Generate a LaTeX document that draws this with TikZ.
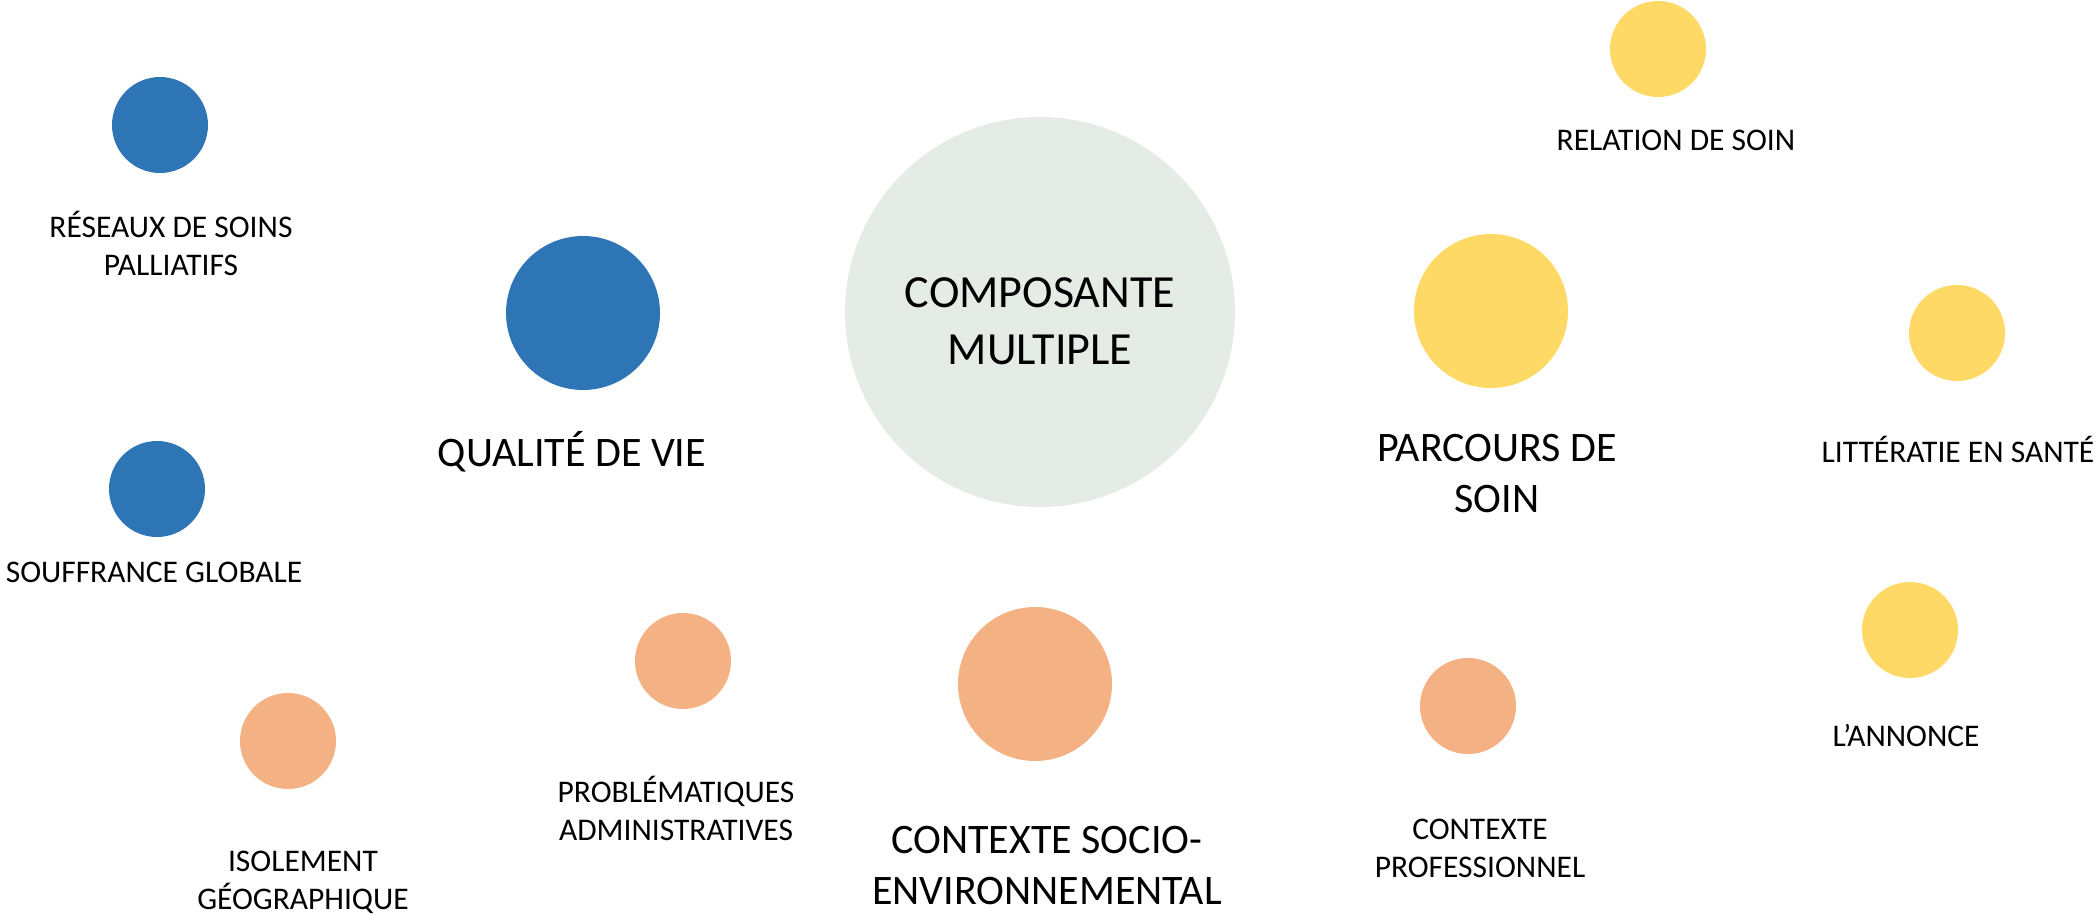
\documentclass[tikz,border=0pt]{standalone}
\usepackage{fontspec}
\setmainfont{Carlito}
\definecolor{bleu}{HTML}{2E75B6}
\definecolor{saumon}{HTML}{F4B183}
\definecolor{jaune}{HTML}{FFD966}
\definecolor{gris}{HTML}{E5ECE6}
\tikzstyle{bulle}=[circle,inner sep=0pt,draw=none]
\tikzstyle{petit}=[align=center,anchor=base,inner sep=0pt,font=\fontsize{31.5}{37.8}\selectfont]
\tikzstyle{grand}=[align=center,anchor=base,inner sep=0pt,font=\fontsize{42}{51}\selectfont]
\tikzstyle{titre}=[align=center,anchor=base,inner sep=0pt,font=\fontsize{46}{57}\selectfont]
\newcommand{\drawbulle}[5]{
\pgfmathsetmacro{\diam}{2*#4}
\node[bulle,fill=#5,minimum size=\diam pt] (#1) at (#2,#3) {};
}

\begin{document}
\begin{tikzpicture}[x=1pt,y=-1pt]
	\useasboundingbox (0,0) rectangle (2099,915);
	% composante centrale
	\drawbulle{centre}{1040}{312}{195}{gris}
	\node[titre] (composante) at (1040,364) {COMPOSANTE\\MULTIPLE};
	% qualite de vie
	\drawbulle{qualite}{583}{313}{77}{bleu}
	\drawbulle{reseaux}{160}{125}{48}{bleu}
	\drawbulle{souffrance}{157}{489}{48}{bleu}
	\node[grand] (lqualite) at (572,466) {QUALITÉ DE VIE};
	\node[petit] (lreseaux) at (171,275) {RÉSEAUX DE SOINS\\PALLIATIFS};
	\node[petit] (lsouffrance) at (154,582) {SOUFFRANCE GLOBALE};
	% parcours de soin
	\drawbulle{parcours}{1491}{311}{77}{jaune}
	\drawbulle{relation}{1658}{49}{48}{jaune}
	\drawbulle{litteratie}{1957}{333}{48}{jaune}
	\drawbulle{annonce}{1910}{630}{48}{jaune}
	\node[grand] (lparcours) at (1497,512) {PARCOURS DE\\SOIN};
	\node[petit] (lrelation) at (1676,150) {RELATION DE SOIN};
	\node[petit] (llitteratie) at (1958,462) {LITTÉRATIE EN SANTÉ};
	\node[petit] (lannonce) at (1906,746) {L’ANNONCE};
	% contexte socio-environnemental
	\drawbulle{socio}{1035}{684}{77}{saumon}
	\drawbulle{admin}{683}{661}{48}{saumon}
	\drawbulle{isolement}{288}{741}{48}{saumon}
	\drawbulle{pro}{1468}{706}{48}{saumon}
	\node[grand] (lsocio) at (1047,904) {CONTEXTE SOCIO-\\ENVIRONNEMENTAL};
	\node[petit] (ladmin) at (676,840) {PROBLÉMATIQUES\\ADMINISTRATIVES};
	\node[petit] (lisolement) at (303,909) {ISOLEMENT\\GÉOGRAPHIQUE};
	\node[petit] (lpro) at (1480,877) {CONTEXTE\\PROFESSIONNEL};
\end{tikzpicture}
\end{document}
